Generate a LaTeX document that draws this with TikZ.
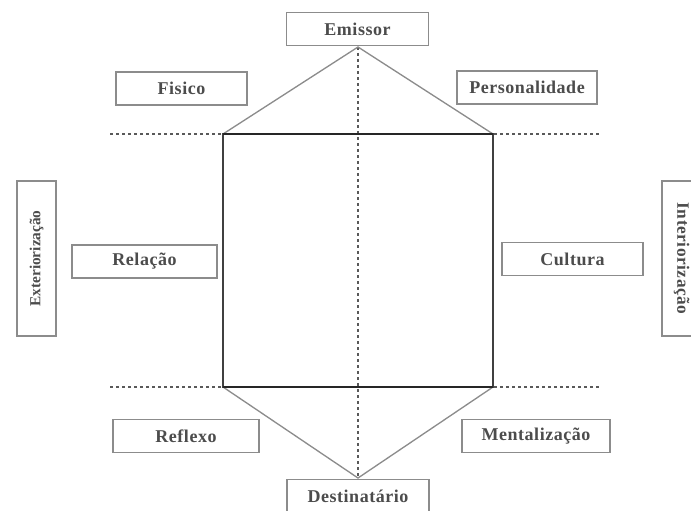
\documentclass[tikz,border=0pt]{standalone}
\usepackage{fontspec}
\setmainfont{Liberation Serif}
\newfontfamily\caixafont[LetterSpace=3]{Liberation Serif}

\begin{document}
\begin{tikzpicture}[x=0.75pt,y=-0.75pt,
  caixa/.style={draw=black!45, line width=0.9pt, fill=white, inner sep=0pt,
    font=\caixafont\bfseries\fontsize{13.5}{15}\selectfont, text=black!70, minimum height=24.75pt},
  guia/.style={black!65, line width=0.8pt, dash pattern=on 2.5pt off 2pt},
  aresta/.style={black!45, line width=1pt},
  lado/.style={black!75, line width=1.2pt},
  borda/.style={black!85, line width=1.6pt}]

\useasboundingbox (0,0) rectangle (691,510);

\coordinate (topo) at (358,47);
\coordinate (base) at (358,478);
\coordinate (rTL) at (223,134);
\coordinate (rTR) at (493,134);
\coordinate (rBL) at (223,387);
\coordinate (rBR) at (493,387);
\coordinate (gTL) at (110,134);
\coordinate (gTR) at (600,134);
\coordinate (gBL) at (110,387);
\coordinate (gBR) at (600,387);

\draw[guia] (gTL) -- (gTR);
\draw[guia] (gBL) -- (gBR);
\draw[guia] (topo) -- (base);

\draw[aresta] (rTL) -- (topo) -- (rTR);
\draw[aresta] (rBL) -- (base) -- (rBR);
\draw[lado] (rTL) rectangle (rBR);
\draw[borda] (rTL) -- (rTR);
\draw[borda] (rBL) -- (rBR);

\node[caixa, minimum width=107pt] (emissor) at (357.5,29) {Emissor};
\node[caixa, minimum width=106.5pt] (destino) at (358,496) {Destinatário};

\node[caixa, minimum width=98.25pt] (fisico) at (181.5,88.5) {Fisico};
\node[caixa, minimum width=105pt] (personal) at (527,87.5) {Personalidade};

\node[caixa, minimum width=108.75pt] (relacao) at (144.5,261.5) {Relação};
\node[caixa, minimum width=105.75pt] (cultura) at (572.5,259) {Cultura};

\node[caixa, minimum width=109.5pt] (reflexo) at (186,436) {Reflexo};
\node[caixa, minimum width=111pt] (mental) at (536,436) {Mentalização};

\node[caixa, rotate=90, minimum width=116.25pt, minimum height=29.25pt,
  font=\bfseries\fontsize{11.5}{13}\selectfont] (exter) at (36.5,258.5) {Exteriorização};
\node[caixa, rotate=-90, minimum width=116.25pt, minimum height=29.25pt,
  font=\caixafont\bfseries\fontsize{13}{15}\selectfont] (inter) at (681.5,258.5) {Interiorização};

\end{tikzpicture}
\end{document}
